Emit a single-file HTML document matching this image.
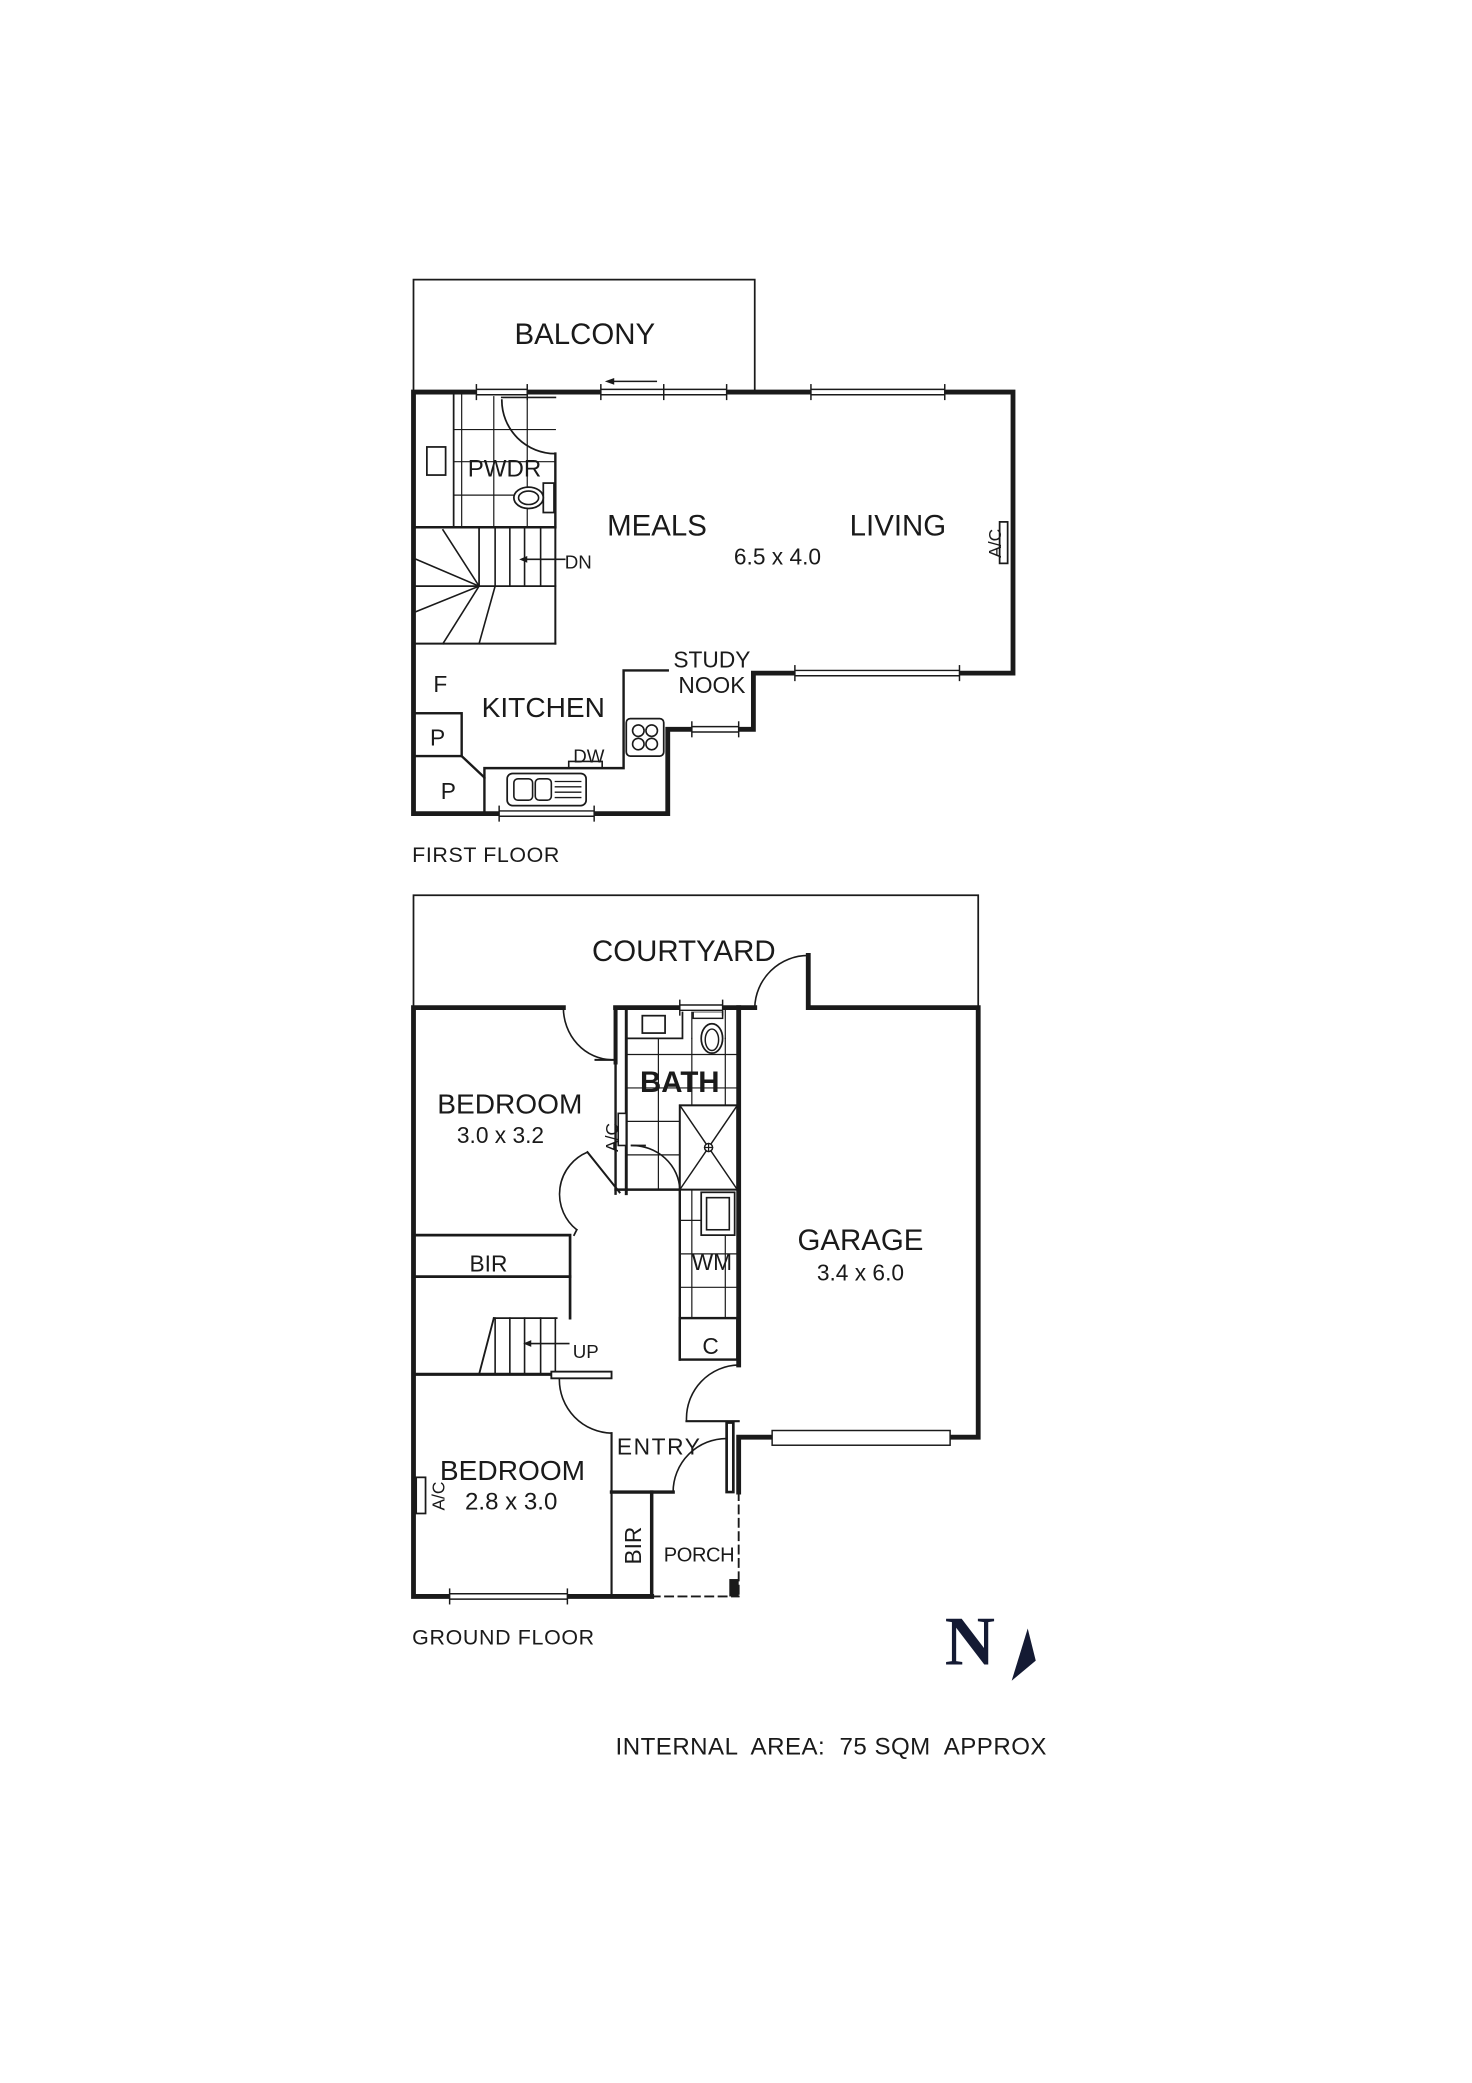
<!DOCTYPE html>
<html><head><meta charset="utf-8"><style>
html,body{margin:0;padding:0;background:#fff;}
svg{display:block;}
text{font-family:"Liberation Sans",Arial,sans-serif;fill:#1a1a1a;}
</style></head><body>
<svg width="1472" height="2083" viewBox="0 0 1100 1556.6" preserveAspectRatio="none" xmlns="http://www.w3.org/2000/svg">
<g fill="none" stroke="#1a1a1a" stroke-linecap="square">
<!-- ================= FIRST FLOOR ================= -->
<!-- balcony -->
<polyline points="309,293 309,209 564,209 564,293" stroke-width="1.3"/>
<!-- pwdr tiles -->
<g stroke-width="0.9">
<line x1="345" y1="293" x2="345" y2="394"/><line x1="369" y1="293" x2="369" y2="394"/><line x1="394" y1="293" x2="394" y2="394"/>
<line x1="339" y1="321" x2="415" y2="321"/><line x1="339" y1="345" x2="415" y2="345"/><line x1="339" y1="370" x2="415" y2="370"/>
</g>
<line x1="339" y1="293" x2="339" y2="394" stroke-width="1.3"/>
<rect x="319" y="334" width="14" height="21" stroke-width="1.3" fill="#fff"/>
<rect x="406" y="361" width="8" height="22" stroke-width="1.3" fill="#fff"/>
<ellipse cx="395" cy="372" rx="11" ry="8" stroke-width="1.3" fill="#fff"/>
<ellipse cx="395" cy="372" rx="7.5" ry="5" stroke-width="1.2"/>
<!-- pwdr walls -->
<line x1="415" y1="339" x2="415" y2="394" stroke-width="1.8"/>
<line x1="309" y1="394" x2="415" y2="394" stroke-width="1.8"/>
<path d="M375 299 A40 40 0 0 0 415 339" stroke-width="1.3"/>
<line x1="375" y1="297" x2="415" y2="297" stroke-width="1.3"/>
<!-- stairs -->
<line x1="309" y1="481" x2="415" y2="481" stroke-width="1.5"/>
<line x1="415" y1="394" x2="415" y2="481" stroke-width="1.5"/>
<line x1="309" y1="438" x2="415" y2="438" stroke-width="1.3"/>
<line x1="358" y1="394" x2="358" y2="438" stroke-width="1.3"/>
<g stroke-width="1.2">
<line x1="370" y1="394" x2="370" y2="438"/><line x1="381" y1="394" x2="381" y2="438"/><line x1="392" y1="394" x2="392" y2="438"/><line x1="404" y1="394" x2="404" y2="438"/>
<line x1="358" y1="438" x2="331" y2="396"/><line x1="358" y1="438" x2="311" y2="418"/><line x1="358" y1="438" x2="311" y2="457"/><line x1="358" y1="438" x2="331" y2="481"/>
<line x1="370" y1="438" x2="358" y2="481"/>
<line x1="392" y1="418" x2="422" y2="418"/>
</g>
<polygon points="388,418 394,415.5 394,420.5" fill="#1a1a1a" stroke="none"/>
<!-- kitchen -->
<rect x="309" y="533" width="36" height="32" stroke-width="1.8"/>
<polyline points="345,565 362,581 362,608" stroke-width="1.8"/>
<polyline points="362,581 362,574 466,574 466,501 499,501" stroke-width="1.8"/>
<rect x="425" y="569" width="25" height="5" stroke-width="1.2"/>
<rect x="468" y="537" width="28" height="28" rx="3" stroke-width="1.3"/>
<circle cx="477" cy="546" r="4.3" stroke-width="1.2"/><circle cx="487" cy="546" r="4.3" stroke-width="1.2"/>
<circle cx="477" cy="556" r="4.3" stroke-width="1.2"/><circle cx="487" cy="556" r="4.3" stroke-width="1.2"/>
<rect x="379" y="578" width="59" height="24" rx="4" stroke-width="1.3"/>
<rect x="384" y="582" width="14" height="16" rx="3" stroke-width="1.2"/>
<rect x="400" y="582" width="12" height="16" rx="3" stroke-width="1.2"/>
<g stroke-width="1"><line x1="415" y1="584" x2="434" y2="584"/><line x1="415" y1="588" x2="434" y2="588"/><line x1="415" y1="592" x2="434" y2="592"/><line x1="415" y1="596" x2="434" y2="596"/></g>
<!-- outer walls first floor -->
<polyline points="309,293 757,293 757,503 563,503 563,545 499,545 499,608 309,608 309,293" stroke-width="3.6" stroke-linejoin="miter"/>
<line x1="466" y1="501" x2="466" y2="503" stroke-width="1"/>
<!-- A/C living -->
<rect x="747" y="390" width="6" height="31" stroke-width="1.3" fill="#fff"/>
</g>
<!-- windows first floor -->
<g stroke="#1a1a1a" stroke-width="1.1">
<rect x="356" y="290" width="38" height="6" fill="#fff" stroke="none"/>
<line x1="356" y1="291" x2="394" y2="291"/><line x1="356" y1="295" x2="394" y2="295"/>
<line x1="356" y1="287" x2="356" y2="299"/><line x1="394" y1="287" x2="394" y2="299"/>
<rect x="449" y="290" width="94" height="6" fill="#fff" stroke="none"/>
<line x1="449" y1="291" x2="543" y2="291"/><line x1="449" y1="295" x2="543" y2="295"/>
<line x1="449" y1="287" x2="449" y2="299"/><line x1="496" y1="287" x2="496" y2="299"/><line x1="543" y1="287" x2="543" y2="299"/>
<line x1="457" y1="285" x2="491" y2="285"/>
<rect x="606" y="290" width="100" height="6" fill="#fff" stroke="none"/>
<line x1="606" y1="291" x2="706" y2="291"/><line x1="606" y1="295" x2="706" y2="295"/>
<line x1="606" y1="287" x2="606" y2="299"/><line x1="706" y1="287" x2="706" y2="299"/>
<rect x="594" y="500" width="123" height="6" fill="#fff" stroke="none"/>
<line x1="594" y1="501" x2="717" y2="501"/><line x1="594" y1="505" x2="717" y2="505"/>
<line x1="594" y1="497" x2="594" y2="509"/><line x1="717" y1="497" x2="717" y2="509"/>
<rect x="517" y="542" width="35" height="6" fill="#fff" stroke="none"/>
<line x1="517" y1="543" x2="552" y2="543"/><line x1="517" y1="547" x2="552" y2="547"/>
<line x1="517" y1="539" x2="517" y2="551"/><line x1="552" y1="539" x2="552" y2="551"/>
<rect x="373" y="605" width="71" height="6" fill="#fff" stroke="none"/>
<line x1="373" y1="606" x2="444" y2="606"/><line x1="373" y1="610" x2="444" y2="610"/>
<line x1="373" y1="602" x2="373" y2="614"/><line x1="444" y1="602" x2="444" y2="614"/>
</g>
<polygon points="452,285 459,282.5 459,287.5" fill="#1a1a1a"/>

<!-- ================= GROUND FLOOR ================= -->
<g fill="none" stroke="#1a1a1a" stroke-linecap="square">
<polyline points="309,753 309,669 731,669 731,753" stroke-width="1.3"/>
<!-- bath tiles -->
<g stroke-width="0.9">
<line x1="492" y1="776" x2="492" y2="889"/><line x1="517" y1="776" x2="517" y2="826"/><line x1="542" y1="776" x2="542" y2="826"/>
<line x1="468" y1="788" x2="551" y2="788"/><line x1="468" y1="813" x2="551" y2="813"/><line x1="468" y1="838" x2="508" y2="838"/><line x1="468" y1="863" x2="508" y2="863"/>
<line x1="517" y1="753" x2="517" y2="776"/><line x1="542" y1="753" x2="542" y2="776"/>
<line x1="517" y1="889" x2="517" y2="985"/><line x1="542" y1="923" x2="542" y2="985"/>
<line x1="508" y1="912" x2="524" y2="912"/><line x1="508" y1="937" x2="551" y2="937"/><line x1="508" y1="962" x2="551" y2="962"/>
</g>
<polyline points="468,776 510,776 510,755" stroke-width="1.3"/>
<rect x="480" y="759" width="17" height="13" stroke-width="1.3"/>
<rect x="518" y="756" width="22" height="5" stroke-width="1.1"/>
<ellipse cx="532" cy="776" rx="8" ry="11" stroke-width="1.3" fill="#fff"/>
<ellipse cx="532" cy="777" rx="5" ry="8" stroke-width="1.1"/>
<!-- shower -->
<rect x="508" y="826" width="43" height="63" stroke-width="1.5" fill="#fff"/>
<line x1="508" y1="826" x2="551" y2="889" stroke-width="1.1"/><line x1="551" y1="826" x2="508" y2="889" stroke-width="1.1"/>
<circle cx="529.5" cy="857.5" r="3" stroke-width="1.1" fill="#fff"/><line x1="526.5" y1="857.5" x2="532.5" y2="857.5" stroke-width="0.9"/><line x1="529.5" y1="854.5" x2="529.5" y2="860.5" stroke-width="0.9"/>
<!-- washer -->
<rect x="524" y="891" width="25" height="32" stroke-width="1.3" fill="#fff"/>
<rect x="528" y="895" width="17" height="24" stroke-width="1.2"/>
<!-- laundry / C -->
<line x1="508" y1="889" x2="508" y2="1016" stroke-width="1.8"/>
<rect x="508" y="985" width="43" height="31" stroke-width="1.8" fill="#fff"/>
<!-- bath walls -->
<line x1="468" y1="753" x2="468" y2="892" stroke-width="2.2"/>
<line x1="460" y1="753" x2="460" y2="794" stroke-width="3"/>
<line x1="460" y1="794" x2="460" y2="892" stroke-width="1.8"/>
<line x1="460" y1="889" x2="508" y2="889" stroke-width="1.8"/>
<rect x="462" y="832" width="6" height="24" stroke-width="1.2" fill="#fff"/>
<!-- bath door -->
<line x1="472" y1="856" x2="482" y2="856" stroke-width="1.3"/>
<path d="M472 856 A36 34 0 0 1 508 889" stroke-width="1.2"/>
<!-- bedroom1 top door -->
<path d="M421 753 A37 39 0 0 0 457 792" stroke-width="1.2"/>
<line x1="445" y1="792" x2="460" y2="792" stroke-width="1.5"/>
<!-- bedroom1 hall door -->
<line x1="439" y1="861" x2="463" y2="891" stroke-width="1.5"/>
<path d="M439 861 A34 34 0 0 0 431 919" stroke-width="1.2"/>
<polyline points="431,919 429,923" stroke-width="1.3"/>
<!-- BIR -->
<polyline points="309,923 426,923 426,985" stroke-width="2"/>
<line x1="309" y1="954" x2="426" y2="954" stroke-width="2"/>
<!-- stairs ground -->
<line x1="369" y1="985" x2="416" y2="985" stroke-width="1.3"/>
<line x1="369" y1="985" x2="358" y2="1027" stroke-width="1.4"/>
<g stroke-width="1.2">
<line x1="381" y1="985" x2="381" y2="1027"/><line x1="392" y1="985" x2="392" y2="1027"/><line x1="404" y1="985" x2="404" y2="1027"/><line x1="415" y1="985" x2="415" y2="1027"/><line x1="370" y1="985" x2="370" y2="1027"/>
<line x1="395" y1="1004" x2="425" y2="1004"/>
</g>
<line x1="309" y1="1027" x2="412" y2="1027" stroke-width="2.4"/>
<rect x="412" y="1025" width="45" height="5" stroke-width="1.4" fill="#fff"/>
<!-- bedroom2 door -->
<path d="M418 1031 A40 40 0 0 0 457 1071" stroke-width="1.2"/>
<line x1="457" y1="1071" x2="457" y2="1193" stroke-width="1.6"/>
<!-- BIR2 -->
<line x1="457" y1="1115" x2="503" y2="1115" stroke-width="2.6"/>
<line x1="487" y1="1115" x2="487" y2="1193" stroke-width="2.6"/>
<!-- entry door -->
<path d="M503 1115 A40 40 0 0 1 543 1075" stroke-width="1.2"/>
<polyline points="543,1063 548,1063 548,1115 543,1115 543,1063" stroke-width="2" fill="#fff"/>
<!-- garage door -->
<path d="M513 1061 A40 40 0 0 1 552 1020" stroke-width="1.2"/>
<line x1="513" y1="1062" x2="552" y2="1062" stroke-width="1.6"/>
<!-- courtyard door -->
<path d="M564 753 A40 40 0 0 1 604 714" stroke-width="1.2"/>
<!-- outer walls ground -->
<polyline points="421,753 309,753 309,1193 487,1193" stroke-width="3.6"/>
<polyline points="460,753 564,753" stroke-width="3.6"/>
<polyline points="604,714 604,753 731,753 731,1074 552,1074 552,1115" stroke-width="3.6"/>
<line x1="552" y1="753" x2="552" y2="1020" stroke-width="3.6"/>
<!-- porch dashed -->
<line x1="552" y1="1115" x2="552" y2="1193" stroke-width="1.4" stroke-dasharray="6,4"/>
<line x1="487" y1="1193" x2="552" y2="1193" stroke-width="1.4" stroke-dasharray="6,4"/>
<rect x="545" y="1180" width="7" height="13" fill="#1a1a1a" stroke="none"/>
<!-- A/C bedroom2 -->
<rect x="311" y="1104" width="7" height="27" stroke-width="1.3" fill="#fff"/>
</g>
<!-- ground windows -->
<g stroke="#1a1a1a" stroke-width="1.1">
<rect x="508" y="750" width="32" height="6" fill="#fff" stroke="none"/>
<line x1="508" y1="751" x2="540" y2="751"/><line x1="508" y1="755" x2="540" y2="755"/>
<line x1="508" y1="747" x2="508" y2="759"/><line x1="540" y1="747" x2="540" y2="759"/>
<rect x="577" y="1069" width="133" height="11" fill="#fff"/>
<rect x="336" y="1190" width="88" height="6" fill="#fff" stroke="none"/>
<line x1="336" y1="1191" x2="424" y2="1191"/><line x1="336" y1="1195" x2="424" y2="1195"/>
<line x1="336" y1="1187" x2="336" y2="1199"/><line x1="424" y1="1187" x2="424" y2="1199"/>
</g>
<polygon points="391,1004 397,1001.5 397,1006.5" fill="#1a1a1a"/>

<!-- ================= TEXT ================= -->
<text x="437" y="257" font-size="22" text-anchor="middle">BALCONY</text>
<text x="377" y="356" font-size="18" text-anchor="middle">PWDR</text>
<text x="422" y="425" font-size="14">DN</text>
<text x="491" y="400" font-size="22" text-anchor="middle">MEALS</text>
<text x="671" y="400" font-size="22" text-anchor="middle">LIVING</text>
<text x="581" y="422" font-size="17" text-anchor="middle">6.5 x 4.0</text>
<text transform="translate(748,406) rotate(-90)" font-size="13" text-anchor="middle">A/C</text>
<text x="532" y="499" font-size="17" text-anchor="middle">STUDY</text>
<text x="532" y="518" font-size="17" text-anchor="middle">NOOK</text>
<text x="329" y="517" font-size="17" text-anchor="middle">F</text>
<text x="406" y="536" font-size="21" text-anchor="middle">KITCHEN</text>
<text x="327" y="557" font-size="17" text-anchor="middle">P</text>
<text x="335" y="597" font-size="17" text-anchor="middle">P</text>
<text x="440" y="570" font-size="14" text-anchor="middle">DW</text>
<text x="308" y="644" font-size="16" textLength="110">FIRST FLOOR</text>

<text x="511" y="718" font-size="22" text-anchor="middle">COURTYARD</text>
<text x="381" y="832" font-size="21" text-anchor="middle">BEDROOM</text>
<text x="374" y="854" font-size="17" text-anchor="middle">3.0 x 3.2</text>
<text x="508" y="816" font-size="22" text-anchor="middle" font-weight="bold">BATH</text>
<text transform="translate(462,850) rotate(-90)" font-size="13" text-anchor="middle">A/C</text>
<text x="365" y="950" font-size="17" text-anchor="middle">BIR</text>
<text x="532" y="949" font-size="17" text-anchor="middle">WM</text>
<text x="531" y="1012" font-size="17" text-anchor="middle">C</text>
<text x="643" y="934" font-size="22" text-anchor="middle">GARAGE</text>
<text x="643" y="957" font-size="17" text-anchor="middle">3.4 x 6.0</text>
<text x="428" y="1015" font-size="14">UP</text>
<text x="461" y="1087" font-size="17" textLength="62">ENTRY</text>
<text x="383" y="1106" font-size="21" text-anchor="middle">BEDROOM</text>
<text x="382" y="1128" font-size="18" text-anchor="middle">2.8 x 3.0</text>
<text transform="translate(332,1118) rotate(-90)" font-size="13" text-anchor="middle">A/C</text>
<text transform="translate(479,1155) rotate(-90)" font-size="17" text-anchor="middle">BIR</text>
<text x="496" y="1167" font-size="15" textLength="53">PORCH</text>
<text x="308" y="1229" font-size="16" textLength="136">GROUND FLOOR</text>

<text x="706" y="1244" font-size="52" font-family="Liberation Serif,serif" font-weight="bold" style="font-family:'Liberation Serif',serif;fill:#141a33">N</text>
<polygon points="768,1217 774,1241 756,1256" fill="#141a33"/>
<text x="460" y="1311" font-size="18" textLength="322" xml:space="preserve">INTERNAL  AREA:  75 SQM  APPROX</text>
</svg>
</body></html>
